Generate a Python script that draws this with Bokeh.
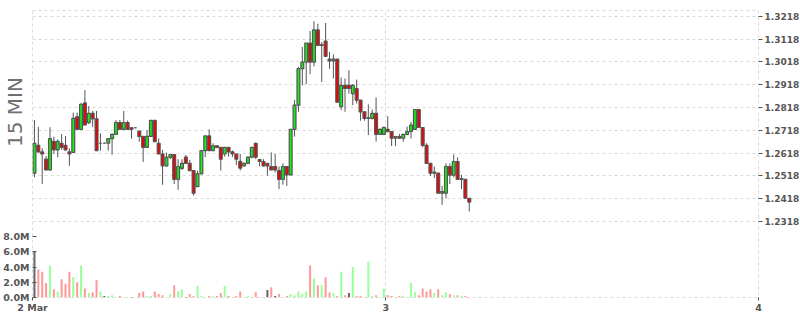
import pandas as pd
from bokeh.plotting import figure
from bokeh.layouts import column
from bokeh.models import (ColumnDataSource, FixedTicker, LinearAxis, PrintfTickFormatter,
                          Range1d, Div)
from bokeh.embed import file_html
from bokeh.resources import INLINE

# ---------------- data ----------------
start_time = "2024-03-02 01:15"
interval = "15min"

opens = [1.2530, 1.2652, 1.2623, 1.2591, 1.2544, 1.2669, 1.2632, 1.2661, 1.2652, 1.2623,
         1.2621, 1.2777, 1.2722, 1.2838, 1.2751, 1.2792, 1.2768, 1.2661, 1.2661, 1.2661,
         1.2681, 1.2700, 1.2752, 1.2722, 1.2752, 1.2729, 1.2729, 1.2714, 1.2691, 1.2643,
         1.2691, 1.2761, 1.2661, 1.2614, 1.2562, 1.2599, 1.2611, 1.2503, 1.2551, 1.2600,
         1.2573, 1.2541, 1.2471, 1.2527, 1.2629, 1.2693, 1.2629, 1.2650, 1.2643, 1.2614,
         1.2643, 1.2623, 1.2614, 1.2582, 1.2562, 1.2573, 1.2600, 1.2661, 1.2589, 1.2581,
         1.2573, 1.2559, 1.2559, 1.2541, 1.2503, 1.2559, 1.2522, 1.2722, 1.2828, 1.2988,
         1.3017, 1.3100, 1.3017, 1.3158, 1.3090, 1.3109, 1.3030, 1.3022, 1.3030, 1.2821,
         1.2915, 1.2915, 1.2879, 1.2901, 1.2850, 1.2799, 1.2770, 1.2770, 1.2792, 1.2700,
         1.2700, 1.2722, 1.2712, 1.2683, 1.2690, 1.2683, 1.2700, 1.2713, 1.2722, 1.2809,
         1.2730, 1.2652, 1.2573, 1.2530, 1.2530, 1.2442, 1.2442, 1.2559, 1.2521, 1.2581,
         1.2503, 1.2503, 1.2420]
highs = [1.2763, 1.2733, 1.2639, 1.2605, 1.2731, 1.2690, 1.2678, 1.2701, 1.2693, 1.2639,
         1.2795, 1.2795, 1.2838, 1.2894, 1.2824, 1.2803, 1.2803, 1.2704, 1.2664, 1.2684,
         1.2704, 1.2763, 1.2763, 1.2803, 1.2760, 1.2733, 1.2730, 1.2714, 1.2691, 1.2719,
         1.2763, 1.2763, 1.2682, 1.2632, 1.2620, 1.2614, 1.2611, 1.2591, 1.2591, 1.2610,
         1.2588, 1.2541, 1.2541, 1.2629, 1.2693, 1.2722, 1.2661, 1.2653, 1.2643, 1.2643,
         1.2643, 1.2629, 1.2617, 1.2614, 1.2576, 1.2602, 1.2643, 1.2664, 1.2592, 1.2591,
         1.2573, 1.2621, 1.2614, 1.2559, 1.2573, 1.2559, 1.2722, 1.2850, 1.2995, 1.3083,
         1.3100, 1.3153, 1.3196, 1.3185, 1.3105, 1.3188, 1.3061, 1.3051, 1.3030, 1.2949,
         1.2945, 1.2981, 1.2920, 1.2940, 1.2850, 1.2799, 1.2831, 1.2809, 1.2862, 1.2726,
         1.2731, 1.2780, 1.2712, 1.2693, 1.2702, 1.2700, 1.2734, 1.2755, 1.2809, 1.2809,
         1.2730, 1.2661, 1.2573, 1.2559, 1.2530, 1.2474, 1.2573, 1.2573, 1.2612, 1.2599,
         1.2522, 1.2503, 1.2420]
lows = [1.2512, 1.2620, 1.2483, 1.2541, 1.2541, 1.2614, 1.2599, 1.2632, 1.2629, 1.2562,
        1.2620, 1.2719, 1.2719, 1.2738, 1.2745, 1.2733, 1.2629, 1.2629, 1.2658, 1.2629,
        1.2611, 1.2697, 1.2719, 1.2719, 1.2719, 1.2681, 1.2726, 1.2668, 1.2579, 1.2643,
        1.2690, 1.2666, 1.2614, 1.2479, 1.2559, 1.2591, 1.2482, 1.2457, 1.2544, 1.2570,
        1.2541, 1.2432, 1.2471, 1.2527, 1.2600, 1.2629, 1.2629, 1.2639, 1.2541, 1.2602,
        1.2602, 1.2600, 1.2566, 1.2541, 1.2559, 1.2570, 1.2595, 1.2591, 1.2559, 1.2559,
        1.2519, 1.2544, 1.2533, 1.2460, 1.2479, 1.2474, 1.2521, 1.2690, 1.2799, 1.2915,
        1.2920, 1.2964, 1.2998, 1.3090, 1.2930, 1.3039, 1.2988, 1.2945, 1.2838, 1.2806,
        1.2799, 1.2879, 1.2828, 1.2835, 1.2760, 1.2760, 1.2697, 1.2765, 1.2668, 1.2697,
        1.2697, 1.2712, 1.2649, 1.2649, 1.2681, 1.2668, 1.2697, 1.2682, 1.2722, 1.2730,
        1.2643, 1.2570, 1.2518, 1.2508, 1.2442, 1.2391, 1.2420, 1.2482, 1.2512, 1.2503,
        1.2460, 1.2420, 1.2362]
closes = [1.2661, 1.2623, 1.2614, 1.2544, 1.2681, 1.2632, 1.2669, 1.2643, 1.2632, 1.2614,
          1.2770, 1.2722, 1.2832, 1.2741, 1.2792, 1.2768, 1.2629, 1.2661, 1.2661, 1.2681,
          1.2700, 1.2752, 1.2722, 1.2752, 1.2722, 1.2722, 1.2729, 1.2691, 1.2643, 1.2691,
          1.2761, 1.2668, 1.2614, 1.2562, 1.2599, 1.2611, 1.2503, 1.2559, 1.2573, 1.2573,
          1.2541, 1.2442, 1.2527, 1.2629, 1.2693, 1.2629, 1.2650, 1.2643, 1.2591, 1.2643,
          1.2623, 1.2614, 1.2591, 1.2552, 1.2573, 1.2600, 1.2643, 1.2600, 1.2581, 1.2562,
          1.2562, 1.2544, 1.2544, 1.2503, 1.2559, 1.2522, 1.2722, 1.2828, 1.2988, 1.3017,
          1.3100, 1.3017, 1.3158, 1.3090, 1.3093, 1.3042, 1.3022, 1.3030, 1.2841, 1.2915,
          1.2901, 1.2901, 1.2915, 1.2850, 1.2799, 1.2770, 1.2772, 1.2792, 1.2700, 1.2722,
          1.2731, 1.2712, 1.2683, 1.2690, 1.2683, 1.2700, 1.2712, 1.2741, 1.2809, 1.2730,
          1.2652, 1.2573, 1.2530, 1.2535, 1.2442, 1.2449, 1.2559, 1.2521, 1.2581, 1.2503,
          1.2506, 1.2420, 1.2403]
volumes_m = [6.0, 3.7, 3.4, 1.9, 4.2, 1.1, 0.8, 2.4, 1.8, 3.4,
             2.7, 2.0, 4.2, 1.2, 0.6, 0.7, 2.3, 0.8, 0.2, 0.2,
             0.3, 0.1, 0.2, 0.05, 0.05, 0.05, 0.05, 0.6, 0.8, 0.2,
             0.2, 0.8, 0.45, 0.3, 0.05, 0.45, 1.6, 0.8, 1.1, 0.05,
             0.45, 0.2, 1.5, 0.2, 0.05, 0.2, 0.2, 0.2, 0.6, 1.5,
             0.2, 0.05, 0.2, 0.8, 0.05, 0.2, 0.05, 0.7, 0.05, 0.05,
             1.0, 1.35, 0.2, 0.45, 0.05, 0.2, 0.45, 0.3, 0.8, 0.45,
             0.8, 4.2, 2.5, 1.6, 1.6, 2.65, 0.7, 0.6, 0.2, 3.4,
             0.3, 0.6, 4.0, 0.2, 0.2, 0.05, 4.7, 0.2, 0.3, 0.05,
             1.2, 0.3, 0.2, 0.05, 0.2, 0.2, 0.05, 1.9, 0.7, 0.3,
             1.2, 0.8, 1.1, 0.6, 1.1, 0.3, 0.7, 0.45, 0.3, 0.3,
             0.2, 0.2, 0.05]

price_ticks = [1.2318, 1.2418, 1.2518, 1.2618, 1.2718, 1.2818, 1.2918, 1.3018, 1.3118, 1.3218]
volume_ticks = [0, 2, 4, 6, 8]
x_tick_hours = [1.25, 24, 48]
x_tick_labels = ["2 Mar", "3", "4"]
panel_label = "15 MIN"

# ---------------- derived ----------------
times = pd.date_range(start_time, periods=len(opens), freq=interval)
day0 = times[0].normalize()
step_h = pd.Timedelta(interval) / pd.Timedelta(hours=1)
hours = [((t - day0) / pd.Timedelta(hours=1)) + step_h / 2 for t in times]

UP, DOWN, FLAT = "#14f014", "#f00000", "#666666"
VUP, VDOWN = "#99ff99", "#ff9999"
body_col, vol_col = [], []
for i, (o, c) in enumerate(zip(opens, closes)):
    body_col.append(UP if c >= o else DOWN)
    if i == 0 or c == closes[i - 1]:
        vol_col.append(FLAT)
    elif c > closes[i - 1]:
        vol_col.append(VUP)
    else:
        vol_col.append(VDOWN)

src = ColumnDataSource(dict(
    x=hours, open=opens, high=highs, low=lows, close=closes,
    top=[max(o, c) for o, c in zip(opens, closes)],
    bottom=[min(o, c) for o, c in zip(opens, closes)],
    color=body_col, vol=volumes_m, vcolor=vol_col,
))

GRID = "#d9d9d9"
TXT = "#555555"
FONT = "DejaVu Sans"

p = figure(frame_width=726, frame_height=287,
           min_border_top=10, min_border_bottom=18, min_border_left=31, min_border_right=43,
           x_range=Range1d(x_tick_hours[0], x_tick_hours[-1]),
           y_range=Range1d(1.19848, 1.32430),
           y_axis_location="right", toolbar_location=None, output_backend="svg",
           background_fill_color="white", border_fill_color="white",
           outline_line_color=GRID, outline_line_dash="3 3", outline_line_width=1)

p.extra_y_ranges = {"vol": Range1d(0, 37.76)}

# price axis (right)
ya = p.yaxis[0]
ya.ticker = FixedTicker(ticks=price_ticks)
ya.formatter = PrintfTickFormatter(format="%.4f")
ya.axis_line_color = None
ya.major_tick_out = 4
ya.major_tick_in = 0
ya.major_tick_line_color = TXT
ya.minor_tick_line_color = None
ya.major_label_standoff = 2
ya.major_label_text_font = FONT
ya.major_label_text_font_style = "bold"
ya.major_label_text_font_size = "9px"
ya.major_label_text_color = TXT

# volume axis (left)
va = LinearAxis(y_range_name="vol", ticker=FixedTicker(ticks=volume_ticks),
                formatter=PrintfTickFormatter(format="%.1fM"))
va.axis_line_color = None
va.major_tick_out = 0
va.major_tick_in = 4
va.major_tick_line_color = TXT
va.minor_tick_line_color = None
va.major_label_standoff = 3
va.major_label_text_font = FONT
va.major_label_text_font_style = "bold"
va.major_label_text_font_size = "9.5px"
va.major_label_text_color = TXT
p.add_layout(va, "left")

# x axis
xa = p.xaxis[0]
xa.ticker = FixedTicker(ticks=x_tick_hours)
xa.major_label_overrides = dict(zip(x_tick_hours, x_tick_labels))
xa.axis_line_color = None
xa.major_tick_out = 3
xa.major_tick_in = 0
xa.major_tick_line_color = TXT
xa.minor_tick_line_color = None
xa.major_label_standoff = 1
xa.major_label_text_font = FONT
xa.major_label_text_font_style = "bold"
xa.major_label_text_font_size = "9.5px"
xa.major_label_text_color = TXT

for g in (p.xgrid[0], p.ygrid[0]):
    g.grid_line_color = GRID
    g.grid_line_dash = "3 3"
    g.grid_line_width = 1

# volume bars
p.vbar(x="x", width=step_h * 0.52, top="vol", bottom=0, fill_color="vcolor",
       line_color=None, y_range_name="vol", source=src)

# candles
p.segment(x0="x", y0="low", x1="x", y1="high", line_color=TXT, line_width=1, source=src)
p.vbar(x="x", width=step_h * 0.74, top="top", bottom="bottom", fill_color="color",
       line_color=TXT, line_width=1.2, source=src)

# vertical panel caption sitting in the left margin, over the plot
caption = Div(text=panel_label, margin=0, styles={
    "position": "absolute", "left": "15px", "top": "112px", "z-index": "10",
    "transform": "translate(-50%, -50%) rotate(-90deg)",
    "white-space": "nowrap", "font-family": FONT, "font-size": "20px",
    "line-height": "1", "color": "#707070",
})

layout = column(p, caption, spacing=0)

open("out.html", "w").write(file_html(layout, INLINE))
